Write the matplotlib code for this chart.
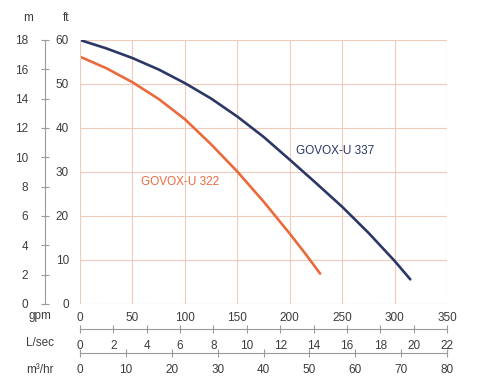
import matplotlib.pyplot as plt
from matplotlib.lines import Line2D

# pump curves (flow in gpm, head in ft)
gpm_337 = [0, 25, 50, 75, 100, 125, 150, 175, 200, 225, 250, 275, 300, 315]
ft_337 = [60, 58.1, 55.9, 53.3, 50.2, 46.7, 42.6, 38.0, 32.8, 27.5, 22.1, 16.2, 9.8, 5.6]

gpm_322 = [0, 25, 50, 75, 100, 125, 150, 175, 200, 215, 229]
ft_322 = [56.2, 53.6, 50.4, 46.6, 42.0, 36.3, 30.1, 23.3, 16.0, 11.4, 6.9]

gpm_ticks = [0, 50, 100, 150, 200, 250, 300, 350]
ft_ticks = [0, 10, 20, 30, 40, 50, 60]
m_ticks = [0, 2, 4, 6, 8, 10, 12, 14, 16, 18]
lsec_ticks = [0, 2, 4, 6, 8, 10, 12, 14, 16, 18, 20, 22]
m3hr_ticks = [0, 10, 20, 30, 40, 50, 60, 70, 80]

plt.rcParams['font.family'] = ['Liberation Sans', 'DejaVu Sans']
txt = '#3c3c3c'
grid = '#f0cbbb'
blue = '#2b3866'
orange = '#ea6a3c'
axis_grey = '#9a9a9a'

W, H = 486, 378
fig = plt.figure(figsize=(W / 100, H / 100), dpi=100)
x0, x1, y0, y1 = 80, 447, 40, 304
ax = fig.add_axes([x0 / W, 1 - y1 / H, (x1 - x0) / W, (y1 - y0) / H])

ax.plot(gpm_337, ft_337, color=blue, lw=1.9, solid_capstyle='round', solid_joinstyle='round')
ax.plot(gpm_322, ft_322, color=orange, lw=1.9, solid_capstyle='round', solid_joinstyle='round')
ax.text(243, 34.8, 'GOVOX-U 337', color=blue, fontsize=8.5, ha='center', va='center')
ax.text(95, 27.7, 'GOVOX-U 322', color=orange, fontsize=8.5, ha='center', va='center')

ax.set_xlim(0, 350)
ax.set_ylim(0, 60)
ax.set_xticks(gpm_ticks)
ax.set_yticks(ft_ticks)
ax.grid(True, color=grid, lw=0.8)
ax.set_axisbelow(True)
for s in ax.spines.values():
    s.set_visible(False)
ax.tick_params(length=0, colors=txt, labelsize=8.5)
ax.tick_params(axis='y', pad=8)
ax.tick_params(axis='x', pad=6)
ax.axhline(0, color=grid, lw=0.8)
ax.axvline(0, color=grid, lw=0.8)

# metres scale on the far left (18 m sits at the 60 ft line in the original)
sec_m = ax.secondary_yaxis(-35 / (x1 - x0), functions=(lambda f: f * 18 / 60, lambda m: m * 60 / 18))
sec_m.set_yticks(m_ticks)
sec_m.spines['left'].set_visible(False)
sec_m.tick_params(direction='inout', length=6, width=0.8, color=axis_grey, colors=txt, labelsize=8.5, pad=9)
fig.add_artist(Line2D([45 / W, 45 / W], [1 - y1 / H, 1 - y0 / H], color=axis_grey, lw=0.8))

# extra flow scales under the chart, ends lined up with 350 gpm
lsec = ax.secondary_xaxis(-25 / (y1 - y0), functions=(lambda g: g * 22 / 350, lambda l: l * 350 / 22))
lsec.set_xticks(lsec_ticks)
m3hr = ax.secondary_xaxis(-49 / (y1 - y0), functions=(lambda g: g * 80 / 350, lambda q: q * 350 / 80))
m3hr.set_xticks(m3hr_ticks)
for sx in (lsec, m3hr):
    sx.spines['bottom'].set_color(axis_grey)
    sx.tick_params(direction='inout', length=6, width=0.8, color=axis_grey, colors=txt, labelsize=8.5, pad=5)

fig.text(28 / W, 1 - 18 / H, 'm', color=txt, fontsize=8.5, ha='center', va='center')
fig.text(66 / W, 1 - 18 / H, 'ft', color=txt, fontsize=8.5, ha='center', va='center')
fig.text(40 / W, 1 - 316 / H, 'gpm', color=txt, fontsize=8.5, ha='center', va='center')
fig.text(40 / W, 1 - 343 / H, 'L/sec', color=txt, fontsize=8.5, ha='center', va='center')
fig.text(40 / W, 1 - 370 / H, 'm³/hr', color=txt, fontsize=8.5, ha='center', va='center')

fig.savefig('out.png', dpi=100)
